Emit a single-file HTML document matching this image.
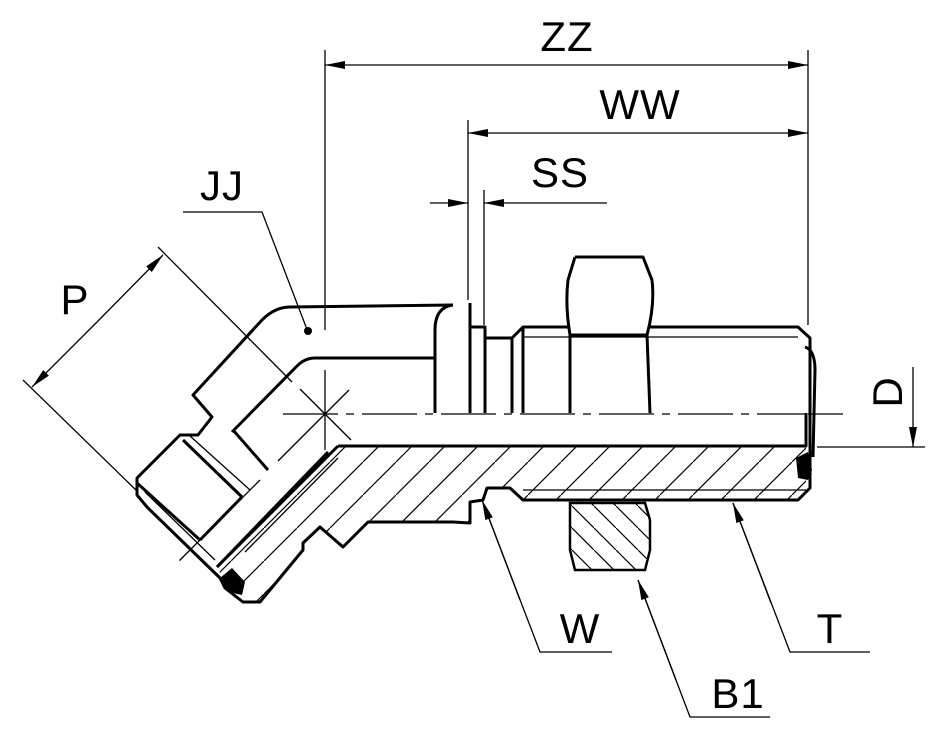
<!DOCTYPE html>
<html><head><style>
html,body{margin:0;padding:0;background:#fff;}
svg{display:block;}
text{font-family:"Liberation Sans",sans-serif;font-size:42px;fill:#000;letter-spacing:1px;}
</style></head><body>
<svg width="940" height="739" viewBox="0 0 940 739" xmlns="http://www.w3.org/2000/svg">
<defs>
<marker id="a" viewBox="0 0 20 8" refX="20" refY="4" markerWidth="20" markerHeight="8" orient="auto" markerUnits="userSpaceOnUse"><path d="M0,0 L20,4 L0,8 z" fill="#000"/></marker>
<pattern id="h1" patternUnits="userSpaceOnUse" width="33" height="33"><path d="M-1,34 L34,-1" stroke="#000" stroke-width="1.2"/></pattern>
<pattern id="h2" patternUnits="userSpaceOnUse" width="22" height="22"><path d="M-1,-1 L23,23" stroke="#000" stroke-width="1.2"/></pattern>
</defs>
<g fill="none" stroke="#000">
<path d="M338,446 L806,446 L806,488 L798,500 L523,500 L510,488 L487,488 L483,500 L470,502 L470,523 L453,522 L368,522 L343,547 L320,527 L303,543 L303,550 L260,602 L243,602 L225,588 L218,567 Z" fill="url(#h1)" stroke="none"/>
<path d="M570,503 L645,503 L650,520 L650,550 L645,570 L575,570 L570,550 Z" fill="url(#h2)" stroke-width="2.5"/>
<g stroke-width="1.3">
<line x1="325" y1="50" x2="325" y2="330"/>
<line x1="808" y1="50" x2="808" y2="325"/>
<line x1="468" y1="120" x2="468" y2="300"/>
<line x1="484" y1="190" x2="484" y2="325"/>
<line x1="345" y1="65" x2="788" y2="65"/>
<line x1="345" y1="65" x2="325" y2="65" marker-end="url(#a)"/>
<line x1="788" y1="65" x2="808" y2="65" marker-end="url(#a)"/>
<line x1="488" y1="133" x2="788" y2="133"/>
<line x1="488" y1="133" x2="468" y2="133" marker-end="url(#a)"/>
<line x1="788" y1="133" x2="808" y2="133" marker-end="url(#a)"/>
<line x1="430" y1="203" x2="468" y2="203" marker-end="url(#a)"/>
<line x1="607" y1="203" x2="484" y2="203" marker-end="url(#a)"/>
<polyline points="183,212 262,212 308,332"/>
<line x1="158" y1="247" x2="292" y2="382"/>
<line x1="23" y1="380" x2="138" y2="492"/>
<line x1="97" y1="322" x2="163" y2="255" marker-end="url(#a)"/>
<line x1="97" y1="322" x2="32" y2="387" marker-end="url(#a)"/>
<line x1="913" y1="367" x2="913" y2="447" marker-end="url(#a)"/>
<line x1="817" y1="447" x2="925" y2="447"/>
<line x1="808" y1="414" x2="843" y2="414"/>
<polyline points="612,652 540,652 482,500" />
<polyline points="770,717 690,717 638,580"/>
<polyline points="870,652 790,652 733,503"/>
</g>
<line x1="520" y1="600" x2="482" y2="500" stroke-width="1.3" marker-end="url(#a)"/>
<line x1="676" y1="680" x2="638" y2="580" stroke-width="1.3" marker-end="url(#a)"/>
<line x1="771" y1="603" x2="733" y2="503" stroke-width="1.3" marker-end="url(#a)"/>
<g stroke-width="1.3">
<path d="M283,414 L805,414" stroke-dasharray="55,8,8,8"/>
<line x1="325" y1="370" x2="325" y2="450"/>
<line x1="300" y1="389" x2="351" y2="440"/>
<line x1="349" y1="390" x2="278" y2="461"/>
<line x1="260" y1="480" x2="176" y2="564" stroke-dasharray="45,8,8,8"/>
</g>
<circle cx="308" cy="331" r="4" fill="#000" stroke="none"/>
<g stroke-width="3" stroke-linejoin="round">
<path d="M453,305 L290,307 Q275,307 262,320 L193,395 L212,417 L198,435 L180,435 L137,478 L137,495 L147,507 L220,578 L225,588 L243,602 L260,602 L303,550 L303,543 L320,527 L343,547 L368,522 L453,522 L470,523 L470,502 L483,500 L487,488 L510,488 L523,500 L798,500 L810,488 L810,338 L798,327 L650,327"/>
<path d="M453,305 Q435,307 435,330 L435,413"/>
<path d="M435,358 L315,358 Q305,358 297,366 L232,432"/>
<path d="M233,430 L268,470"/>
<path d="M338,446 L806,446 L806,413"/>
<path d="M338,446 L217,567"/>
<path d="M470,303 L470,327 L485,327 L485,338 L512,338 L523,327 L568,327"/>
<path d="M470,327 L470,413 M485,338 L485,413 M512,338 L512,413 M523,327 L523,413"/>
<path d="M575,257 L643,257 L652,280 Q655,305 647,335 L650,413 M575,257 L568,280 Q565,305 570,335 L570,413 M570,335 L647,335"/>
<path d="M805,347 Q815,350 815,370 L813,457"/>
<path d="M183,440 L242,497 M137,483 L200,540 M200,540 L242,497"/>
<path d="M328,452 L217,567"/>
</g>
<g stroke-width="1.3">
<line x1="523" y1="337" x2="798" y2="337"/>
<line x1="523" y1="490" x2="806" y2="490"/>
<line x1="190" y1="436" x2="250" y2="490"/>
<line x1="145" y1="492" x2="215" y2="560"/>
<line x1="338" y1="458" x2="245" y2="552"/>
</g>
<path d="M796,458 L808,452 L812,470 L808,480 L798,478 Z" fill="#000" stroke="none"/>
<path d="M220,578 L232,568 L245,582 L242,595 L228,592 Z" fill="#000" stroke="none"/>
</g>
<text x="567" y="51" text-anchor="middle">ZZ</text>
<text x="640" y="119" text-anchor="middle">WW</text>
<text x="560" y="187" text-anchor="middle">SS</text>
<text x="222" y="200" text-anchor="middle">JJ</text>
<text x="75" y="314" text-anchor="middle">P</text>
<text x="580" y="643" text-anchor="middle">W</text>
<text x="738" y="708" text-anchor="middle">B1</text>
<text x="830" y="643" text-anchor="middle">T</text>
<text x="0" y="0" text-anchor="middle" transform="translate(902,392) rotate(-90)">D</text>
</svg>
</body></html>
